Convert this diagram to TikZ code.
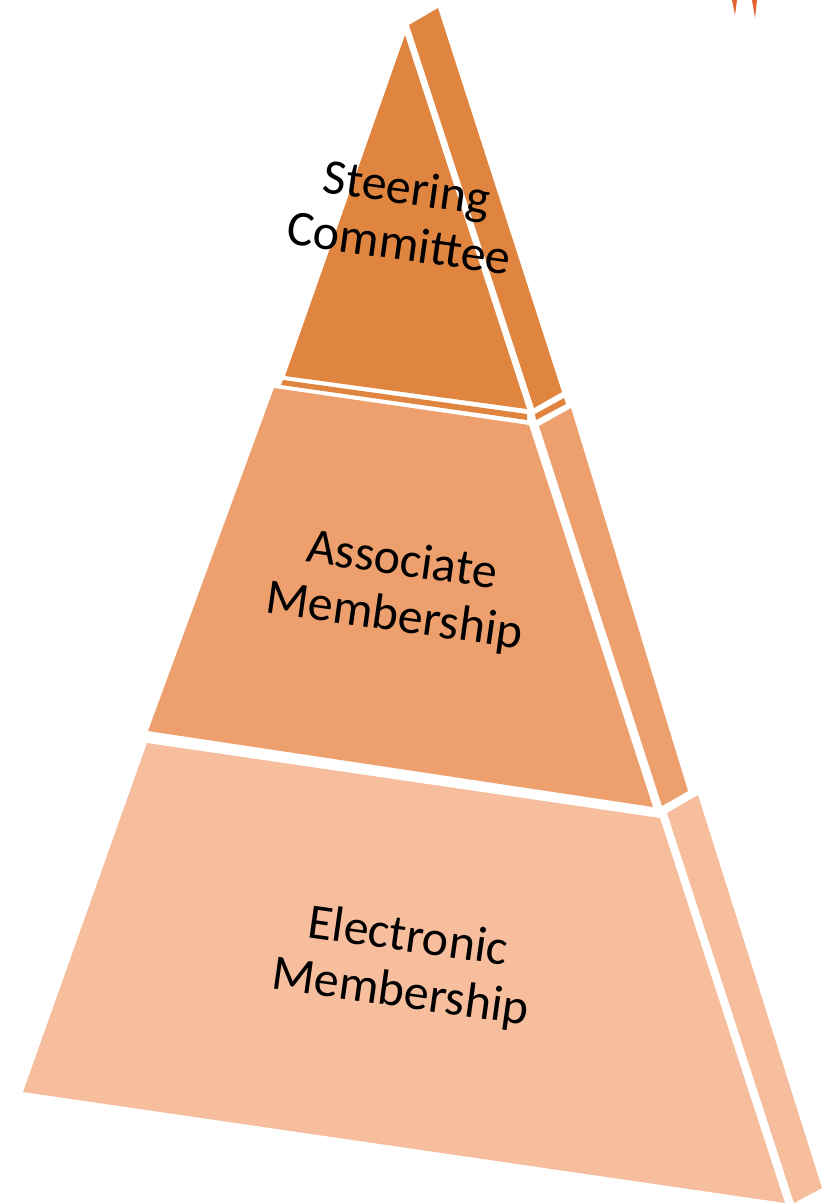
\documentclass[tikz,border=0pt]{standalone}
\usepackage{fontspec}
\setmainfont{Carlito}
\definecolor{topc}{RGB}{224,133,64}
\definecolor{midc}{RGB}{237,160,110}
\definecolor{botc}{RGB}{247,190,158}
\definecolor{markc}{RGB}{226,98,48}
\begin{document}
\begin{tikzpicture}[x=1pt,y=-1pt,
  lbl/.style={align=center,font=\fontsize{50}{56}\selectfont,rotate=-8,inner sep=0pt}]
\useasboundingbox (0,0) rectangle (827,1203);
% top layer
\fill[topc] (405,35) -- (527,409) -- (285,376) -- cycle;
\fill[topc] (409,25) -- (438,8) -- (562,392) -- (534,408) -- cycle;
\fill[topc] (283,380) -- (527,414) -- (527,420) -- (281,385) -- cycle;
\fill[topc] (535,414) -- (564,398) -- (566,404) -- (536,420) -- cycle;
% middle layer
\fill[midc] (274,388) -- (529,425) -- (653,807) -- (148,731) -- cycle;
\fill[midc] (539,426) -- (571,408) -- (688,791) -- (662,806) -- cycle;
% bottom layer
\fill[botc] (147,743) -- (660,818) -- (785,1203) -- (23,1092) -- cycle;
\fill[botc] (667,813) -- (698,795) -- (822,1188) -- (794,1203) -- cycle;
% marks
\fill[markc] (732,0) -- (737,0) -- (735,15) -- cycle;
\fill[markc] (752,0) -- (757,0) -- (755,18) -- cycle;
% labels
\node[lbl] (steer) at (403,215) {Steering\\Committee};
\node[lbl] (assoc) at (398,590) {Associate\\Membership};
\node[lbl] (elec) at (404,966) {Electronic\\Membership};
\end{tikzpicture}
\end{document}
